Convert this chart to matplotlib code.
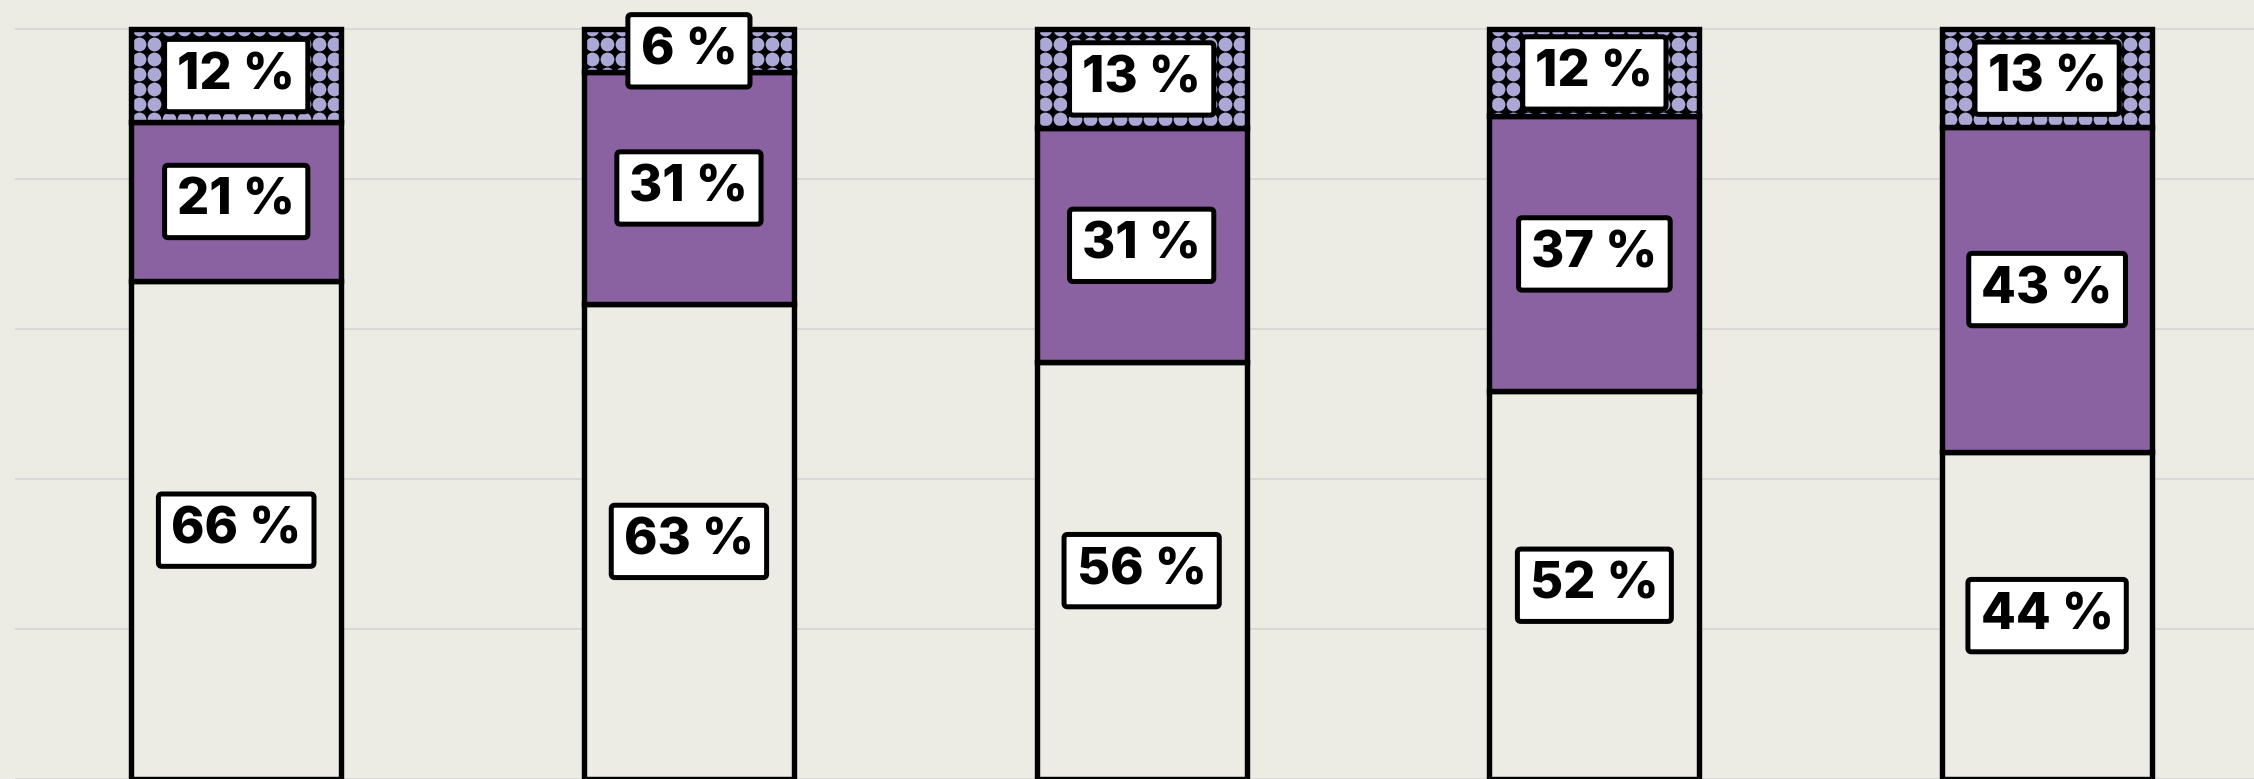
import numpy as np
import matplotlib
matplotlib.use("Agg")
import matplotlib.pyplot as plt
from matplotlib.patches import Rectangle

# ---- data ----
groups = ["G1", "G2", "G3", "G4", "G5"]
share_base = [66.4, 63.4, 55.6, 51.7, 43.6]
share_mid = [21.3, 30.9, 31.2, 36.7, 43.4]
share_top = [12.3, 5.7, 13.2, 11.6, 13.0]

# ---- style ----
BG = "#ECEBE4"
PURPLE = "#8A61A1"
LAVENDER = "#ABA8D6"
GRID = "#D9D8D4"
EDGE_LW = 3.9

W, H, DPI = 22.54, 7.79, 100
fig = plt.figure(figsize=(W, H), dpi=DPI, facecolor=BG)
ax = fig.add_axes([15 / 2254, 0, 2239 / 2254, 1])
ax.set_facecolor(BG)
ax.set_xlim(-0.4886, 4.457)
ax.set_ylim(0, 103.93)
for s in ax.spines.values():
    s.set_visible(False)
ax.set_xticks([])
ax.set_yticks([0, 20, 40, 60, 80, 100])
ax.tick_params(axis="y", length=0, labelleft=False)
ax.yaxis.grid(True, color=GRID, linewidth=1.4)
ax.set_axisbelow(True)

x = np.arange(len(groups))
width = 0.464

base = np.array(share_base)
mid = np.array(share_mid)
top = np.array(share_top)

ax.bar(x, base, width=width, color=BG, edgecolor="black", linewidth=EDGE_LW, zorder=2)
ax.bar(x, mid, width=width, bottom=base, color=PURPLE, edgecolor="black",
       linewidth=EDGE_LW, zorder=2)
top_bars = ax.bar(x, top, width=width, bottom=base + mid, color="black",
                  edgecolor="black", linewidth=0, zorder=2)

# pattern texture: lavender disks on a square grid clipped to each top segment
px_per_x = 2239 / (4.457 + 0.4886)
px_per_y = 779 / 103.93
step_px = 15.0
dx = step_px / px_per_x
dy = step_px / px_per_y
msize = (13.8 * 72 / DPI) ** 2
for rect in top_bars:
    x0, y0 = rect.get_x(), rect.get_y()
    w, h = rect.get_width(), rect.get_height()
    xs = np.arange(x0 + dx * 0.55, x0 + w + dx, dx)
    ys = np.arange(y0 + h, y0 - dy, -dy)
    gx, gy = np.meshgrid(xs, ys)
    sc = ax.scatter(gx.ravel(), gy.ravel(), s=msize, color=LAVENDER,
                    linewidths=0, zorder=2.2)
    sc.set_clip_path(rect)
    ax.add_patch(Rectangle((x0, y0), w, h, fill=False, edgecolor="black",
                           linewidth=EDGE_LW, zorder=2.5))

# labels
def label(xc, yc, val):
    ax.text(xc, yc, f"{round(val)} %", ha="center", va="center",
            fontsize=36.5, fontweight="heavy", family=["Inter", "DejaVu Sans"],
            color="black", zorder=5,
            bbox=dict(boxstyle="round,pad=0.25,rounding_size=0.07",
                      facecolor="white", edgecolor="black", linewidth=3.6))

for i in range(len(groups)):
    label(x[i], base[i] / 2, base[i])
    label(x[i], base[i] + mid[i] / 2, mid[i])
    label(x[i], base[i] + mid[i] + top[i] / 2, top[i])

fig.savefig("out.png", dpi=DPI, facecolor=BG)
